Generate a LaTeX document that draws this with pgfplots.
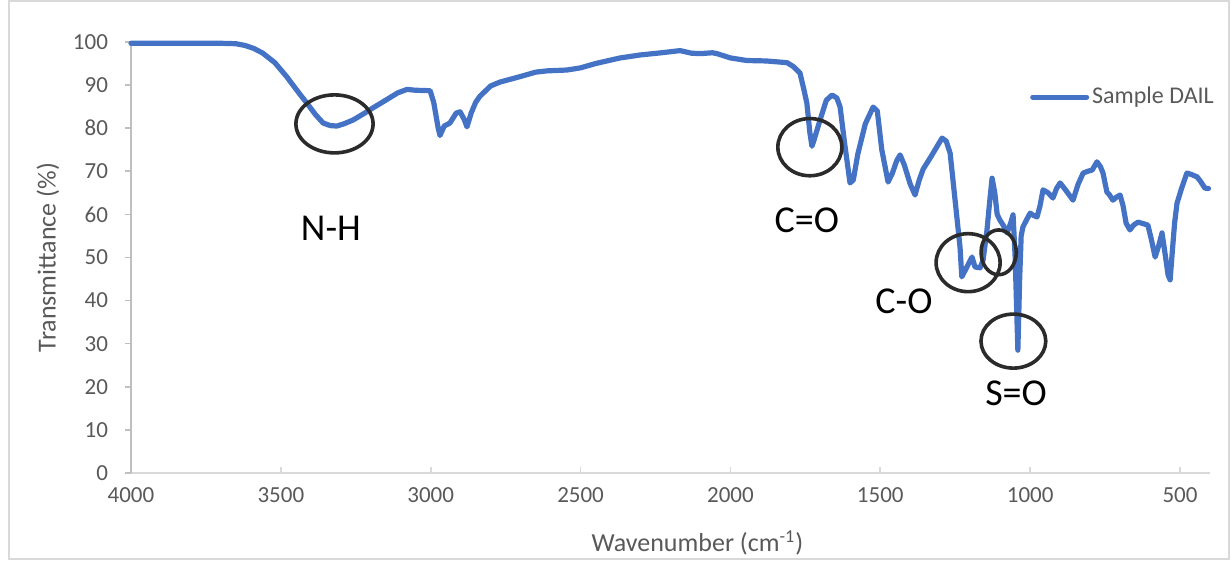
\documentclass[border=0pt]{standalone}
\usepackage{pgfplots}
\pgfplotsset{compat=1.18}
\usepackage{fontspec}
\setmainfont{Carlito}
\definecolor{ftir}{HTML}{4472C4}
\definecolor{ticktext}{HTML}{595959}
\definecolor{gridgray}{HTML}{D9D9D9}
\definecolor{yaxgray}{HTML}{BFBFBF}
\definecolor{ann}{HTML}{2B2B2B}
\begin{document}
\begin{tikzpicture}
\useasboundingbox (-65.5pt,-44pt) rectangle (550pt,236.5pt);
\draw[gridgray, line width=0.6pt] (-61pt,-43pt) rectangle (549pt,236pt);
\begin{axis}[
  at={(0pt,0pt)}, anchor=south west,
  scale only axis, width=539.5pt, height=215.5pt,
  x dir=reverse,
  xmin=400, xmax=4000, ymin=0, ymax=100,
  xtick={500,1000,...,4000}, ytick={0,10,...,100},
  axis x line*=bottom, axis y line*=left,
  x axis line style={gridgray, line width=0.8pt, -},
  y axis line style={yaxgray, line width=0.8pt, -},
  xtick style={gridgray, line width=0.8pt}, ytick style={yaxgray, line width=0.8pt},
  /pgf/number format/set thousands separator={},
  /pgf/number format/assume math mode=true,
  xtick align=inside, ytick align=outside,
  major tick length=3pt,
  tick label style={font=\fontsize{11.5}{13}\selectfont, text=ticktext},
  xticklabel style={yshift=-4pt},
  yticklabel style={xshift=-5pt},
  xlabel={Wavenumber (cm\textsuperscript{-1})},
  ylabel={Transmittance (\%)},
  label style={font=\fontsize{13}{15}\selectfont, text=ticktext},
  xlabel style={at={(axis description cs:0.525,-0.1625)}, anchor=center},
  ylabel style={at={(axis description cs:-0.077,0.5)}, anchor=center},
  clip=false,
  legend style={at={(axis description cs:0.833,0.872)}, anchor=west, draw=none, fill=none,
    inner sep=0pt, nodes={inner sep=0pt, inner xsep=1.5pt}, font=\fontsize{12}{14}\selectfont, text=ticktext},
  legend image code/.code={\draw[#1, line width=2.5pt, line cap=round] (0pt,0pt) -- (27pt,0pt);},
]
\addplot[ftir, line width=2.6pt, line join=round, line cap=round] coordinates {
(4000,99.7) (3900,99.7) (3800,99.7) (3700,99.7) (3650,99.6) (3620,99.2) (3590,98.5)
(3560,97.4) (3520,95.2) (3480,91.9) (3440,88.2) (3413,85.8) (3385,83.2) (3359,81.2)
(3335,80.6) (3313,80.5) (3290,81.0) (3259,81.9) (3225,83.3) (3193,84.7) (3150,86.5)
(3110,88.2) (3079,89.0) (3050,88.8) (3002,88.7) (2990,86) (2975,80) (2969,78.3)
(2955,80.5) (2936,81.2) (2915,83.5) (2902,83.8) (2888,82) (2879,80.3) (2865,83.5)
(2850,86) (2836,87.4) (2800,89.8) (2769,90.7) (2700,92.0) (2650,93.0) (2612,93.3)
(2545,93.5) (2500,94.0) (2450,95.0) (2368,96.3) (2300,97.0) (2230,97.5) (2168,98.0)
(2130,97.4) (2101,97.3) (2060,97.5) (2045,97.3) (2000,96.3) (1945,95.7) (1880,95.6)
(1811,95.2) (1790,94.3) (1768,92.8) (1755,89) (1745,85.8) (1735,79) (1728,75.8)
(1720,77.5) (1701,81.9) (1680,86.5) (1661,87.7) (1645,87) (1634,84.9) (1620,77)
(1601,67.3) (1590,68) (1575,74) (1550,81) (1524,84.9) (1510,84) (1495,75) (1474,67.5)
(1460,69.5) (1445,72.5) (1434,73.8) (1420,71.5) (1400,67) (1384,64.5) (1370,68)
(1357,70.5) (1330,73.5) (1294,77.7) (1280,77) (1267,74.2) (1250,63) (1234,52.4)
(1228,45.5) (1211,47.8) (1194,50.1) (1184,47.8) (1167,47.6) (1157,49.4) (1144,56.4)
(1135,63) (1127,68.4) (1118,65) (1110,60) (1101,58.7) (1090,57.5) (1077,55.7)
(1065,58) (1057,59.9) (1050,50) (1045,38) (1041,28.5) (1035,45) (1030,55) (1024,57.1)
(1010,59) (1000,60.3) (990,59.8) (977,59.4) (967,62) (957,65.7) (940,65) (924,63.8)
(912,66) (900,67.3) (880,65.5) (857,63.3) (840,67) (823,69.6) (808,70) (793,70.3)
(777,72.2) (765,71) (757,69.6) (744,65.2) (735,64.5) (724,63.3) (712,64) (700,64.5)
(690,62) (680,58) (667,56.4) (655,57.5) (640,58.2) (620,57.8) (607,57.5) (595,54)
(583,50.1) (570,53) (560,55.7) (548,50) (540,46) (533,44.8) (525,52) (518,58)
(510,62.6) (495,66) (477,69.6) (460,69.2) (443,68.7) (430,67.5) (417,66.1) (405,66)
};
\addlegendentry{Sample DAIL}
\draw[ann, line width=1.8pt] (axis cs:3321,81.0) ellipse [x radius=19.3pt, y radius=14.5pt];
\draw[ann, line width=1.8pt] (axis cs:1735,75.6) ellipse [x radius=16pt, y radius=14.3pt];
\draw[ann, line width=1.8pt] (axis cs:1207,48.8) ellipse [x radius=16pt, y radius=14.5pt];
\draw[ann, line width=1.8pt] (axis cs:1105,51.2) ellipse [x radius=8.8pt, y radius=11.2pt];
\draw[ann, line width=1.8pt] (axis cs:1056,30.6) ellipse [x radius=16.2pt, y radius=13.5pt];
\node[font=\fontsize{19}{22}\selectfont, text=black] at (axis cs:3333,56.8) {N-H};
\node[font=\fontsize{19}{22}\selectfont, text=black] at (axis cs:1745,58.7) {C=O};
\node[font=\fontsize{19}{22}\selectfont, text=black] at (axis cs:1421,39.9) {C-O};
\node[font=\fontsize{19}{22}\selectfont, text=black] at (axis cs:1047,18.6) {S=O};
\end{axis}
\end{tikzpicture}
\end{document}
